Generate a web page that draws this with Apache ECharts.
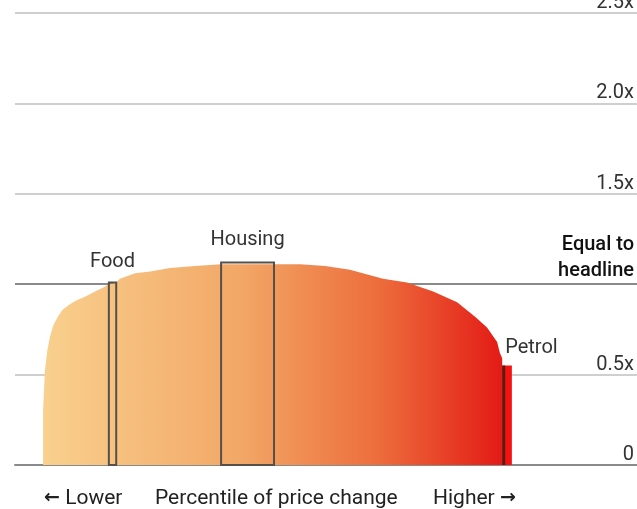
<!DOCTYPE html>
<html>
<head>
<meta charset="utf-8">
<script src="https://cdn.jsdelivr.net/npm/echarts@6/dist/echarts.min.js"></script>
<style>
  html, body { margin: 0; padding: 0; background: #fff; }
  #chart { width: 637px; height: 509px; }
</style>
</head>
<body>
<div id="chart"></div>
<script>
// Distribution of item price changes relative to the headline rate
const percentiles = [0, 0, 0.4, 0.9, 1.5, 2.2, 3.0, 3.7, 4.3, 5.9, 7.2, 9.1, 11.3, 13.0, 14.3,
  15.9, 16.7, 20.0, 23.3, 27.6, 33.0, 38.7, 45.0, 50.2, 55.9, 61.3, 66.7, 73.9, 79.1,
  84.8, 90.0, 93.9, 96.5, 98.7, 99.3, 99.8, 99.8];
const relPrice = [0, 0.30, 0.52, 0.63, 0.71, 0.77, 0.81, 0.84, 0.86, 0.89, 0.91, 0.93, 0.96, 0.98, 1.00,
  1.01, 1.03, 1.06, 1.07, 1.09, 1.10, 1.11, 1.11, 1.11, 1.11, 1.10, 1.08, 1.03, 1.01,
  0.96, 0.90, 0.82, 0.76, 0.68, 0.62, 0.59, 0];

// Highlighted components: percentile span and relative level
const boxNames = ['Food', 'Housing', 'Petrol'];
const boxStart = [14.3, 38.7, 99.8];
const boxEnd = [15.9, 50.2, 101.9];
const boxValue = [1.01, 1.12, 0.55];

// Right-hand axis ticks
const yTicks = [0, 0.5, 1.0, 1.5, 2.0, 2.5];
const yTickLabels = ['0', '0.5x', 'Equal to\nheadline', '1.5x', '2.0x', '2.5x'];

const FONT = 'Roboto, "Noto Sans", sans-serif';
const ARROW_FONT = '"DejaVu Sans", sans-serif';
const chart = echarts.init(document.getElementById('chart'), null, { renderer: 'canvas' });

const curve = percentiles.map((p, i) => [p, relPrice[i]]);
const boxes = boxNames.map((n, i) => [boxStart[i], boxEnd[i], boxValue[i], i]);

chart.setOption({
  animation: false,
  backgroundColor: '#ffffff',
  grid: { left: 15, right: 0, top: 13, bottom: 44, containLabel: false, outerBoundsMode: 'none' },
  xAxis: {
    type: 'value', min: -6.1, max: 129.1,
    axisLine: { show: true, onZero: false, lineStyle: { color: '#8a8a8a', width: 2 } },
    axisTick: { show: false }, axisLabel: { show: false }, splitLine: { show: false }
  },
  yAxis: {
    type: 'value', position: 'right', min: 0, max: 2.5, interval: 0.5,
    axisLine: { show: false }, axisTick: { show: false },
    splitLine: { show: true, lineStyle: { color: ['#8a8a8a', '#cfcfcf', '#8a8a8a', '#cfcfcf', '#cfcfcf', '#cfcfcf'], width: 2 } },
    axisLabel: {
      inside: true, align: 'right', verticalAlign: 'bottom', margin: 3,
      fontFamily: FONT, fontSize: 20, color: '#333', padding: [0, 0, 0, 0],
      formatter: function (v) {
        const i = yTicks.findIndex(t => Math.abs(t - v) < 1e-6);
        if (i === 2) return yTickLabels[i].split('\n').map(s => '{h|' + s + '}').join('\n');
        return i >= 0 ? yTickLabels[i] : '';
      },
      rich: { h: { fontFamily: FONT, fontSize: 20, fontWeight: 500, color: '#111', lineHeight: 26, padding: [0, 0, 1, 0] } }
    }
  },
  series: [
    {
      type: 'line', data: curve, symbol: 'none', z: 3,
      lineStyle: { width: 0 },
      areaStyle: {
        opacity: 1,
        color: new echarts.graphic.LinearGradient(0, 0, 1, 0, [
          { offset: 0, color: '#f9d08e' },
          { offset: 0.43, color: '#f2a766' },
          { offset: 0.73, color: '#ed6d3c' },
          { offset: 1, color: '#e31b16' }
        ])
      }
    },
    {
      type: 'custom', data: boxes, z: 5,
      renderItem: function (params, api) {
        const p0 = api.coord([api.value(0), api.value(2)]);
        const p1 = api.coord([api.value(1), 0]);
        const idx = api.value(3);
        const w = p1[0] - p0[0], h = p1[1] - p0[1];
        const children = [];
        if (idx === 2) {
          children.push({ type: 'rect', shape: { x: p0[0], y: p0[1], width: w, height: h },
            style: { fill: '#f41212', stroke: null } });
          children.push({ type: 'line', shape: { x1: p0[0] + 1.5, y1: p0[1], x2: p0[0] + 1.5, y2: p1[1] },
            style: { stroke: '#5a1c12', lineWidth: 3 } });
          children.push({ type: 'text', style: { text: boxNames[idx], x: p0[0] + 3, y: p0[1] - 8,
            align: 'left', verticalAlign: 'bottom', font: '20px ' + FONT, fill: '#333' } });
        } else {
          children.push({ type: 'rect', shape: { x: p0[0], y: p0[1], width: w, height: h },
            style: { fill: null, stroke: '#55504a', lineWidth: 2 } });
          children.push({ type: 'text', style: { text: boxNames[idx], x: p0[0] + w / 2, y: p0[1] - (idx === 1 ? 13 : 10),
            align: 'center', verticalAlign: 'bottom', font: '20px ' + FONT, fill: '#333' } });
        }
        return { type: 'group', children: children };
      }
    }
  ],
  graphic: [
    { type: 'text', left: 44, top: 488, style: { text: '{a|←} Lower', font: '21px ' + FONT, fill: '#222',
      rich: { a: { fontFamily: ARROW_FONT, fontSize: 19, fontWeight: 'bold', fill: '#222' } } } },
    { type: 'text', left: 155, top: 488, style: { text: 'Percentile of price change', font: '21px ' + FONT, fill: '#222' } },
    { type: 'text', left: 433, top: 488, style: { text: 'Higher {a|→}', font: '21px ' + FONT, fill: '#222',
      rich: { a: { fontFamily: ARROW_FONT, fontSize: 19, fontWeight: 'bold', fill: '#222' } } } }
  ]
});
</script>
</body>
</html>
